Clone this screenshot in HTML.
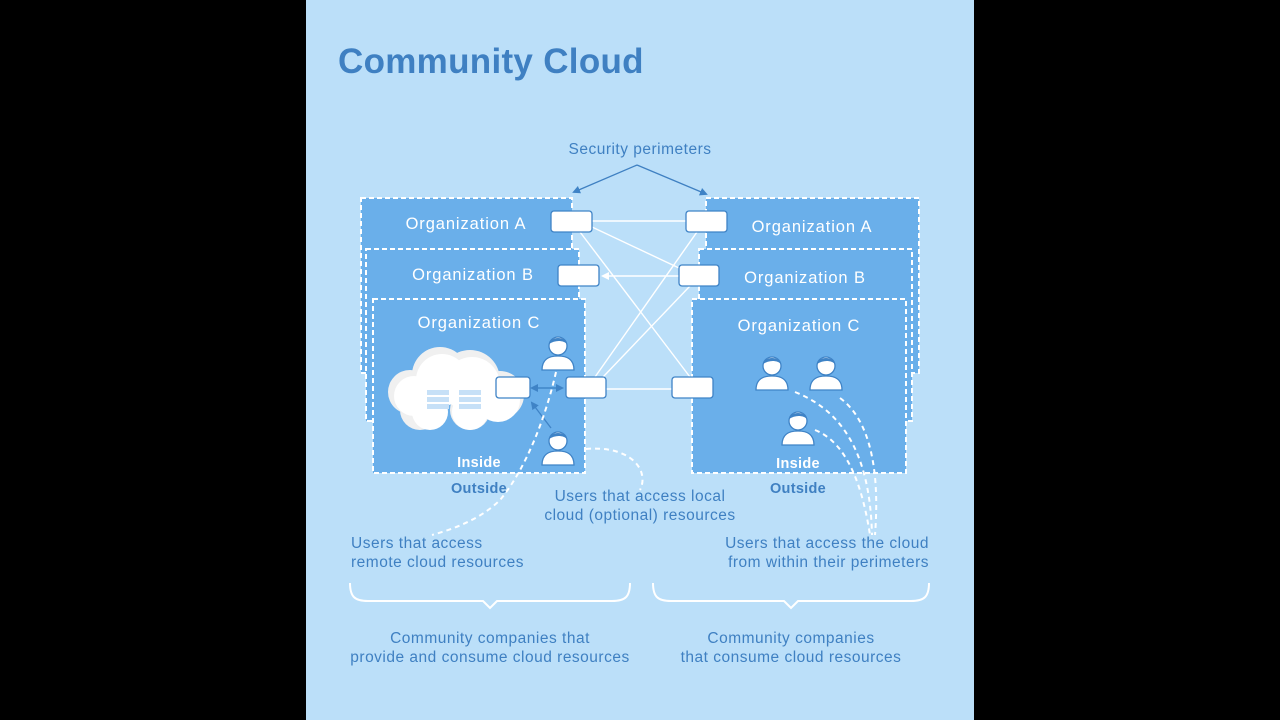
<!DOCTYPE html>
<html><head><meta charset="utf-8"><style>
html,body{margin:0;padding:0;background:#000;width:1280px;height:720px;overflow:hidden}
svg{display:block}
text{font-family:"Liberation Sans",sans-serif}
</style></head><body>
<svg width="1280" height="720" viewBox="0 0 1280 720">
<defs>
<g id="p">
<path d="M-16,16 C-16,5 -9,2 0,2 C9,2 16,5 16,16 Z" fill="#fff" stroke="#3f83c6" stroke-width="1.3"/>
<circle cx="0" cy="-8" r="9" fill="#fff" stroke="#3f83c6" stroke-width="1.3"/>
<path d="M-9,-10 C-8,-18 8,-18 9,-10 C5,-14 -3,-14 -9,-10Z" fill="#3f83c6"/>
</g>
<marker id="ah" markerWidth="8" markerHeight="8" refX="6" refY="4" orient="auto" markerUnits="userSpaceOnUse"><path d="M0,0 L8,4 L0,8Z" fill="#3f83c6"/></marker>
<marker id="aw" markerWidth="8" markerHeight="8" refX="6" refY="4" orient="auto" markerUnits="userSpaceOnUse"><path d="M0,0 L8,4 L0,8Z" fill="#fff"/></marker>
</defs>
<rect x="306" y="0" width="668" height="720" fill="#bbdff9"/>
<text x="338" y="73" font-size="35" font-weight="bold" fill="#3f80c2" letter-spacing="0.3">Community Cloud</text>
<text x="640" y="154" font-size="15.5" fill="#3f80c2" text-anchor="middle" letter-spacing="0.5">Security perimeters</text>
<path d="M637,165 L574,192" stroke="#3f80c2" stroke-width="1.3" fill="none" marker-end="url(#ah)"/>
<path d="M637,165 L706,194" stroke="#3f80c2" stroke-width="1.3" fill="none" marker-end="url(#ah)"/>
<g fill="#6aafea" stroke="#fff" stroke-width="2" stroke-dasharray="5,3">
<rect x="361" y="198" width="211" height="175"/>
<rect x="366" y="249" width="213" height="172"/>
<rect x="373" y="299" width="212" height="174"/>
<rect x="706" y="198" width="213" height="175"/>
<rect x="699" y="249" width="213" height="172"/>
<rect x="692" y="299" width="214" height="174"/>
</g>
<g fill="#fff" font-size="16.5" text-anchor="middle" letter-spacing="0.9">
<text x="466" y="229">Organization A</text>
<text x="473" y="280">Organization B</text>
<text x="479" y="328">Organization C</text>
<text x="812" y="232">Organization A</text>
<text x="805" y="283">Organization B</text>
<text x="799" y="331">Organization C</text>
<text x="479" y="467" font-weight="bold" font-size="14.5" letter-spacing="0.3">Inside</text>
<text x="798" y="468" font-weight="bold" font-size="14.5" letter-spacing="0.3">Inside</text>
</g>
<g stroke="#fff" stroke-width="1.4" fill="none">
<line x1="592" y1="221" x2="686" y2="221"/>
<line x1="580" y1="232" x2="690" y2="377"/>
<line x1="592" y1="227" x2="679" y2="268"/>
<line x1="679" y1="276" x2="603" y2="276" marker-end="url(#aw)"/>
<line x1="595" y1="377" x2="697" y2="232"/>
<line x1="603" y1="377" x2="690" y2="286"/>
<line x1="606" y1="389" x2="672" y2="389"/>
</g>
<g fill="#f0f0f0">
<circle cx="410" cy="392" r="22"/><circle cx="440" cy="375" r="28"/><circle cx="470" cy="380" r="30"/><circle cx="500" cy="395" r="24"/>
<circle cx="420" cy="410" r="20"/><circle cx="470" cy="410" r="20"/>
</g>
<g fill="#fff">
<circle cx="414" cy="396" r="20"/><circle cx="442" cy="380" r="26"/><circle cx="472" cy="385" r="28"/><circle cx="498" cy="400" r="22"/>
<circle cx="430" cy="412" r="18"/><circle cx="470" cy="412" r="18"/>
</g>
<g fill="#c6e0f7">
<rect x="427" y="390" width="22" height="5"/><rect x="427" y="397" width="22" height="5"/><rect x="427" y="404" width="22" height="5"/>
<rect x="459" y="390" width="22" height="5"/><rect x="459" y="397" width="22" height="5"/><rect x="459" y="404" width="22" height="5"/>
</g>
<g fill="#fff" stroke="#3f83c6" stroke-width="1.3">
<rect x="551" y="211" width="41" height="21" rx="3"/>
<rect x="558" y="265" width="41" height="21" rx="3"/>
<rect x="496" y="377" width="34" height="21" rx="3"/>
<rect x="566" y="377" width="40" height="21" rx="3"/>
<rect x="686" y="211" width="41" height="21" rx="3"/>
<rect x="679" y="265" width="40" height="21" rx="3"/>
<rect x="672" y="377" width="41" height="21" rx="3"/>
</g>
<line x1="534" y1="388" x2="562" y2="388" stroke="#3f83c6" stroke-width="1.3" marker-end="url(#ah)"/>
<line x1="556" y1="388" x2="532" y2="388" stroke="#3f83c6" stroke-width="1.3" marker-end="url(#ah)"/>
<line x1="551" y1="428" x2="532" y2="403" stroke="#3f83c6" stroke-width="1.3" marker-end="url(#ah)"/>
<use href="#p" x="558" y="354"/><use href="#p" x="558" y="449"/>
<use href="#p" x="772" y="374"/><use href="#p" x="826" y="374"/><use href="#p" x="798" y="429"/>
<g stroke="#fff" stroke-width="2" fill="none" stroke-dasharray="5,4">
<path d="M556,372 C545,420 525,470 500,500 C480,520 450,530 432,535"/>
<path d="M586,449 C630,445 650,470 640,490"/>
<path d="M795,392 C840,410 870,450 872,535"/>
<path d="M840,398 C870,420 880,470 875,535"/>
<path d="M815,430 C840,440 860,470 870,535"/>
</g>
<g fill="#3f80c2" font-size="15.5" letter-spacing="0.5">
<text x="479" y="493" font-weight="bold" text-anchor="middle" font-size="14.5" letter-spacing="0.3">Outside</text>
<text x="798" y="493" font-weight="bold" text-anchor="middle" font-size="14.5" letter-spacing="0.3">Outside</text>
<text x="640" y="501" text-anchor="middle">Users that access local</text>
<text x="640" y="520" text-anchor="middle">cloud (optional) resources</text>
<text x="351" y="548">Users that access</text>
<text x="351" y="567">remote cloud resources</text>
<text x="929" y="548" text-anchor="end">Users that access the cloud</text>
<text x="929" y="567" text-anchor="end">from within their perimeters</text>
<text x="490" y="643" text-anchor="middle">Community companies that</text>
<text x="490" y="662" text-anchor="middle">provide and consume cloud resources</text>
<text x="791" y="643" text-anchor="middle">Community companies</text>
<text x="791" y="662" text-anchor="middle">that consume cloud resources</text>
</g>
<g stroke="#fff" stroke-width="2" fill="none">
<path d="M350,583 C350,597 355,601 368,601 L483,601 L490,608 L497,601 L612,601 C625,601 630,597 630,583"/>
<path d="M653,583 C653,597 658,601 671,601 L784,601 L791,608 L798,601 L911,601 C924,601 929,597 929,583"/>
</g>
</svg>
</body></html>
